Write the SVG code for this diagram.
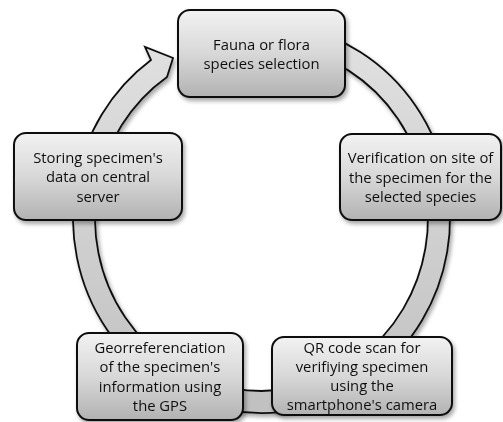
<svg xmlns="http://www.w3.org/2000/svg" width="503" height="422" viewBox="0 0 503 422">
<defs>
<linearGradient id="boxGrad" x1="0" y1="0" x2="0" y2="1">
<stop offset="0" stop-color="#f2f2f2"/>
<stop offset="0.5" stop-color="#d8d8d8"/>
<stop offset="1" stop-color="#b2b2b2"/>
</linearGradient>
<linearGradient id="ringGrad" gradientUnits="userSpaceOnUse" x1="0" y1="20" x2="0" y2="415">
<stop offset="0" stop-color="#e2e2e2"/>
<stop offset="1" stop-color="#c0c0c0"/>
</linearGradient>
<filter id="shadow" x="-10%" y="-10%" width="125%" height="130%">
<feGaussianBlur in="SourceAlpha" stdDeviation="2"/>
<feOffset dx="1.5" dy="2.5" result="b"/>
<feComponentTransfer><feFuncA type="linear" slope="0.35"/></feComponentTransfer>
<feMerge><feMergeNode/><feMergeNode in="SourceGraphic"/></feMerge>
</filter>
</defs>
<style>
.box{fill:url(#boxGrad);stroke:#111;stroke-width:2}
.ring{fill:url(#ringGrad);stroke:#111;stroke-width:1.8;stroke-linejoin:miter}
text{font-family:"Open Sans","Liberation Sans",sans-serif;font-size:14.8px;fill:#111;text-anchor:middle}
</style>
<rect width="503" height="422" fill="#ffffff"/>
<g id="connectors" filter="url(#shadow)">
<path class="ring" d="M 294.2,26 A 188.5 195 0 1 1 75.9,184.1 L 97.5,188 A 166.5 173 0 1 0 290.4,47.6 Z"/>
<path class="ring" d="M 97.5,188 L 75.9,184.1 A 188.5 195 0 0 1 151,60 L 145,47 L 173,58 L 167,77 A 166.5 173 0 0 0 97.5,188 Z"/>
</g>
<g id="node-fauna" filter="url(#shadow)">
<rect class="box" x="178" y="10" width="167" height="87" rx="12"/>
<text x="261.5" y="50">Fauna or flora</text>
<text x="261.5" y="69">species selection</text>
</g>
<g id="node-verification" filter="url(#shadow)">
<rect class="box" x="340" y="134" width="161" height="86" rx="12"/>
<text x="420.5" y="163">Verification on site of</text>
<text x="420.5" y="182.5">the specimen for the</text>
<text x="420.5" y="202">selected species</text>
</g>
<g id="node-qr" filter="url(#shadow)">
<rect class="box" x="272" y="337" width="180" height="78" rx="12"/>
<text x="362" y="353">QR code scan for</text>
<text x="362" y="372">verifiying specimen</text>
<text x="362" y="391">using the</text>
<text x="362" y="410">smartphone's camera</text>
</g>
<g id="node-geo" filter="url(#shadow)">
<rect class="box" x="77" y="333" width="166" height="87" rx="12"/>
<text x="160" y="352.75">Georreferenciation</text>
<text x="160" y="372.25">of the specimen's</text>
<text x="160" y="391.75">information using</text>
<text x="160" y="411.25">the GPS</text>
</g>
<g id="node-storing" filter="url(#shadow)">
<rect class="box" x="14" y="133" width="168" height="87" rx="12"/>
<text x="98" y="162.5">Storing specimen's</text>
<text x="98" y="182">data on central</text>
<text x="98" y="201.5">server</text>
</g>
</svg>
